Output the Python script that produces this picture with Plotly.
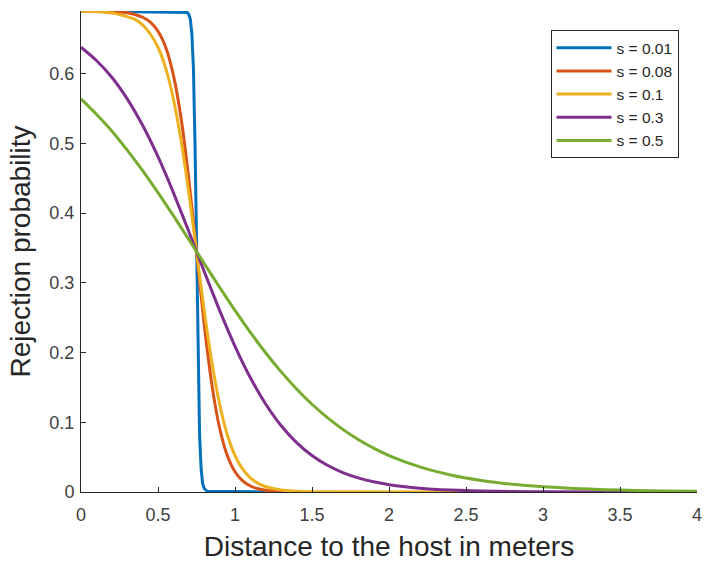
import plotly.graph_objects as go

# Values
x_s001 = [0, 0.69, 0.70, 0.71, 0.72, 0.73, 0.74, 0.75, 0.76, 0.77, 0.78, 0.79, 0.80, 0.82, 1.21]
y_s001 = [0.690, 0.688, 0.685, 0.678, 0.657, 0.608, 0.504, 0.345, 0.186, 0.082, 0.033, 0.012,
          0.005, 0.001, 0.000]

x_s008 = [0, 0.1, 0.2, 0.3, 0.35, 0.4, 0.45, 0.5, 0.55, 0.6, 0.65, 0.7, 0.75, 0.8, 0.85,
          0.9, 0.95, 1.0, 1.05, 1.1, 1.15, 1.2, 1.25, 1.34]
y_s008 = [0.690, 0.690, 0.689, 0.6875, 0.685, 0.681, 0.674, 0.661, 0.638, 0.598, 0.536, 0.449,
          0.345, 0.2406, 0.1537, 0.0918, 0.0523, 0.0290, 0.0159, 0.0086, 0.0046, 0.0025,
          0.0013, 0.0004]

x_s01 = [0, 0.1, 0.2, 0.25, 0.3, 0.35, 0.4, 0.45, 0.5, 0.55, 0.6, 0.65, 0.7, 0.75, 0.8,
         0.85, 0.9, 0.95, 1.0, 1.05, 1.1, 1.15, 1.2, 1.3, 1.4, 1.5, 2.5]
y_s01 = [0.690, 0.689, 0.687, 0.685, 0.682, 0.678, 0.670, 0.657, 0.638, 0.608, 0.564, 0.504,
         0.4295, 0.345, 0.2605, 0.1856, 0.1259, 0.0822, 0.0523, 0.0327, 0.0202, 0.0124,
         0.0076, 0.0028, 0.0010, 0.0004, 0.0000]

x_s03 = [0, 0.1, 0.2, 0.3, 0.4, 0.5, 0.6, 0.7, 0.8, 0.9, 1.0, 1.1, 1.2, 1.3, 1.4, 1.5,
         1.6, 1.7, 1.8, 1.9, 2.0, 2.2, 2.4, 2.6, 2.8, 3.0, 3.66]
y_s03 = [0.638, 0.619, 0.595, 0.564, 0.526, 0.481, 0.4295, 0.3737, 0.3163, 0.2605, 0.2090,
         0.1638, 0.1259, 0.0951, 0.0709, 0.0523, 0.0383, 0.0279, 0.0202, 0.0146, 0.0105,
         0.0055, 0.0028, 0.0014, 0.0007, 0.0004, 0.0000]

x_s05 = [0, 0.1, 0.2, 0.3, 0.4, 0.5, 0.6, 0.7, 0.8, 0.9, 1.0, 1.1, 1.2, 1.3, 1.4, 1.5,
         1.6, 1.7, 1.8, 1.9, 2.0, 2.2, 2.4, 2.6, 2.8, 3.0, 3.2, 3.4, 3.6, 3.8, 4.0]
y_s05 = [0.564, 0.542, 0.518, 0.4905, 0.461, 0.4295, 0.3964, 0.3622, 0.3278, 0.2937, 0.2605,
         0.2289, 0.1994, 0.1723, 0.1478, 0.1259, 0.1066, 0.0898, 0.0753, 0.0629, 0.0523,
         0.0360, 0.0245, 0.0166, 0.0112, 0.0076, 0.0051, 0.0034, 0.0023, 0.0015, 0.0010]

series_names = ["s = 0.01", "s = 0.08", "s = 0.1", "s = 0.3", "s = 0.5"]
colors = ["#0072BD", "#D95319", "#EDB120", "#7E2F8E", "#77AC30"]
shapes = ["linear", "spline", "spline", "spline", "spline"]
xs = [x_s001, x_s008, x_s01, x_s03, x_s05]
ys = [y_s001, y_s008, y_s01, y_s03, y_s05]

x_ticks = [0, 0.5, 1, 1.5, 2, 2.5, 3, 3.5, 4]
x_tick_labels = ["0", "0.5", "1", "1.5", "2", "2.5", "3", "3.5", "4"]
y_ticks = [0, 0.1, 0.2, 0.3, 0.4, 0.5, 0.6]
y_tick_labels = ["0", "0.1", "0.2", "0.3", "0.4", "0.5", "0.6"]

fig = go.Figure()
for name, c, sh, xv, yv in zip(series_names, colors, shapes, xs, ys):
    fig.add_trace(go.Scatter(x=xv, y=yv, mode="lines", name=name,
                             line=dict(color=c, width=3, shape=sh, smoothing=0.6)))

FONT = "Liberation Sans, Arial, sans-serif"
AX = "#262626"
TICK = "#404040"

fig.update_layout(
    width=704, height=566,
    margin=dict(l=81, r=7, t=11, b=74),
    paper_bgcolor="white", plot_bgcolor="white",
    font=dict(family=FONT, color=AX),
    xaxis=dict(range=[0, 4], tickvals=x_ticks, ticktext=x_tick_labels, automargin=False,
               showgrid=False, zeroline=False, showline=True, linecolor=AX, linewidth=1,
               ticks="inside", ticklen=5, tickcolor=AX, tickfont=dict(size=18, color=TICK),
               ticklabelstandoff=6,
               title=dict(text="Distance to the host in meters", font=dict(size=28, color=AX), standoff=12)),
    yaxis=dict(range=[0, 0.69], tickvals=y_ticks, ticktext=y_tick_labels, automargin=False,
               showgrid=False, zeroline=False, showline=True, linecolor=AX, linewidth=1,
               ticks="inside", ticklen=5, tickcolor=AX, tickfont=dict(size=18, color=TICK),
               ticklabelstandoff=2,
               title=dict(text="Rejection probability", font=dict(size=28, color=AX), standoff=10)),
    legend=dict(x=0.97, y=0.96, xanchor="right", yanchor="top",
                bordercolor=AX, borderwidth=1, bgcolor="white",
                font=dict(size=15.5, color=AX), itemwidth=55, tracegroupgap=0),
    showlegend=True,
)

fig.write_html("out.html")
